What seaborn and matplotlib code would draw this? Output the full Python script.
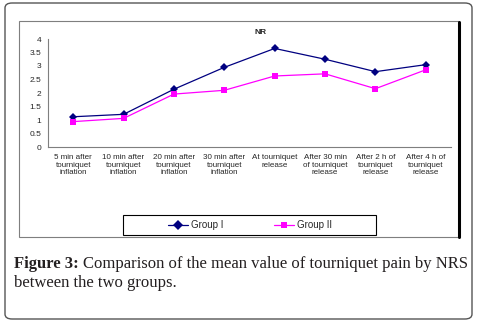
import matplotlib
matplotlib.use("Agg", force=True)
import matplotlib.pyplot as plt
import numpy as np
import pandas as pd
import seaborn as sns
from matplotlib.patches import FancyBboxPatch, Rectangle
from matplotlib.ticker import FixedLocator

categories = [
    "5 min after\ntourniquet\ninflation",
    "10 min after\ntourniquet\ninflation",
    "20 min after\ntourniquet\ninflation",
    "30 min after\ntourniquet\ninflation",
    "At tourniquet\nrelease",
    "After 30 min\nof tourniquet\nrelease",
    "After 2 h of\ntourniquet\nrelease",
    "After 4 h of\ntourniquet\nrelease",
]
group_1 = [1.12, 1.21, 2.14, 2.95, 3.65, 3.25, 2.79, 3.05]
group_2 = [0.94, 1.06, 1.96, 2.10, 2.63, 2.71, 2.16, 2.86]
series_names = ["Group I", "Group II"]
y_ticks = [0, 0.5, 1, 1.5, 2, 2.5, 3, 3.5, 4]

W, H = 478, 328
SERIF = ["Liberation Serif", "DejaVu Serif"]

df = pd.DataFrame({
    "pos": list(range(len(categories))) * 2,
    "value": group_1 + group_2,
    "group": [series_names[0]] * len(categories) + [series_names[1]] * len(categories),
})

sns.set_style("white")
plt.rcParams["font.family"] = ["Liberation Sans", "DejaVu Sans"]

fig = plt.figure(figsize=(W / 100, H / 100), dpi=100)

# outer rounded frame
fig.patches.append(FancyBboxPatch((5 / W, 1 - 319 / H), 467 / W, 316 / H,
                                  boxstyle="round,pad=0,rounding_size=0.015",
                                  transform=fig.transFigure, fill=False,
                                  edgecolor="#555555", linewidth=1.0))
# chart area box
fig.patches.append(Rectangle((19 / W, 1 - 237 / H), 440 / W, 216 / H,
                             transform=fig.transFigure, fill=False,
                             edgecolor="#7f7f7f", linewidth=0.8))
fig.lines.append(plt.Line2D([459 / W, 459 / W], [1 - 237 / H, 1 - 22 / H],
                            transform=fig.transFigure, color="black", linewidth=2.2))

ax = fig.add_axes([48 / W, 1 - 147 / H, 403 / W, 108 / H])
sns.lineplot(data=df, x="pos", y="value", hue="group", style="group",
             palette=["#000080", "#FF00FF"], markers=["D", "s"], dashes=False,
             markersize=5, linewidth=0.9, markeredgewidth=0, ax=ax)
# smaller diamond marker for group I
for line in ax.lines[:1]:
    line.set_markersize(4)

ax.set_xlim(-0.5, len(categories) - 0.5)
ax.set_ylim(0, 4)
ax.set_yticks(y_ticks)
ax.set_yticklabels([f"{v:g}" for v in y_ticks], fontsize=6)
ax.set_xticks(range(len(categories)))
ax.set_xticklabels(categories, fontsize=5.8, linespacing=1.15)
ax.xaxis.set_minor_locator(FixedLocator(np.arange(-0.5, len(categories), 1.0)))
ax.tick_params(axis="x", which="major", length=0, pad=5)
ax.tick_params(axis="x", which="minor", length=3, color="#7f7f7f", width=0.8)
ax.tick_params(axis="y", length=3, color="#7f7f7f", width=0.8, pad=2)
ax.set_xlabel("")
ax.set_ylabel("")
for side in ["top", "right"]:
    ax.spines[side].set_visible(False)
for side in ["left", "bottom"]:
    ax.spines[side].set_color("#7f7f7f")
    ax.spines[side].set_linewidth(0.8)
ax.patch.set_alpha(0)
ax.text(261 / W, 1 - 32 / H, "NR", transform=fig.transFigure, fontsize=6,
        fontweight="bold", ha="center", va="center")

handles, labels = ax.get_legend_handles_labels()
ax.legend_.remove()
fig.patches.append(Rectangle((123 / W, 1 - 235 / H), 253 / W, 20 / H,
                             transform=fig.transFigure, fill=False,
                             edgecolor="black", linewidth=0.8))
fig.legend(handles, labels, ncol=2, loc="center",
           bbox_to_anchor=(250 / W, 1 - 225 / H), fontsize=7,
           frameon=False, handlelength=2.0, columnspacing=5.3,
           handletextpad=0.3)

# caption
cap_y1 = 1 - 264 / H
t1 = fig.text(14 / W, cap_y1, "Figure 3:", fontsize=12, fontweight="bold",
              family=SERIF, va="center", color="#231f20")
fig.canvas.draw()
bb = t1.get_window_extent(fig.canvas.get_renderer())
fig.text(bb.x1 / W + 4 / W, cap_y1,
         "Comparison of the mean value of tourniquet pain by NRS",
         fontsize=12, family=SERIF, va="center", color="#231f20")
fig.text(14 / W, 1 - 283 / H, "between the two groups.", fontsize=12,
         family=SERIF, va="center", color="#231f20")

fig.savefig("out.png", dpi=100)
